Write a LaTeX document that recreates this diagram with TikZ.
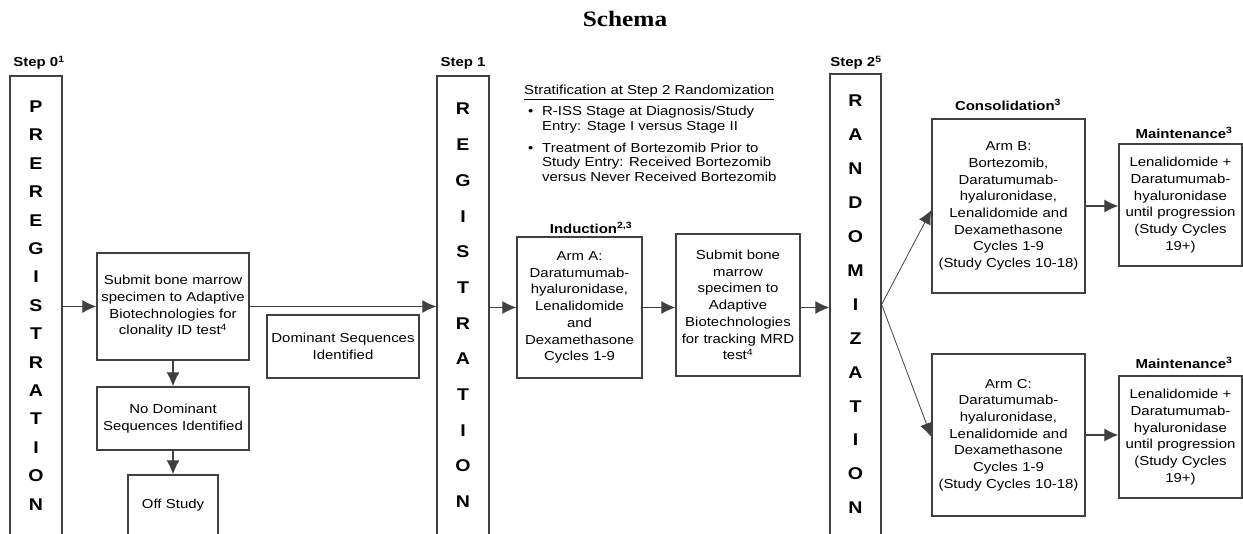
\documentclass[tikz,border=0pt]{standalone}
\usepackage{fontspec}
\setmainfont{Liberation Sans}[FakeStretch=1.15]
\newfontfamily\titlefont{Liberation Serif}[FakeStretch=1.15]
\usetikzlibrary{arrows.meta}
\definecolor{boxgray}{HTML}{404040}

\begin{document}
\begin{tikzpicture}[x=1pt, y=-1pt,
	box/.style={draw=boxgray, line width=1.3pt, align=center, inner xsep=0pt, inner ysep=2pt, font=\fontsize{13}{16.7}\selectfont},
	tall/.style={draw=boxgray, line width=1.3pt, align=center, minimum width=52pt, font=\bfseries\fontsize{17}{#1}\selectfont},
	head/.style={font=\bfseries\fontsize{13}{15}\selectfont},
	arr/.style={draw=boxgray, line width=1.2pt, -{Latex[length=14pt,width=13pt]}},
	thinarr/.style={draw=boxgray, line width=0.8pt, -{Latex[length=14pt,width=13pt]}}]
	\useasboundingbox (0,0) rectangle (1243,534);

	\node[font=\titlefont\bfseries\fontsize{22}{24}\selectfont] (title) at (625,19) {Schema};

	% step 0
	\node[head] (s0) at (39,63) {Step 0\textsuperscript{1}};
	\node[tall=28.4, minimum height=459pt] (pre) at (36,305.5) {P\\R\\E\\R\\E\\G\\I\\S\\T\\R\\A\\T\\I\\O\\N};

	\node[box, text width=152pt, minimum height=107pt] (sub1) at (173,306.5) {Submit bone marrow\\specimen to Adaptive\\Biotechnologies for\\clonality ID test\textsuperscript{4}};
	\node[box, text width=152pt, minimum height=63pt] (dom) at (343,346.5) {Dominant Sequences\\Identified};
	\node[box, text width=152pt, minimum height=63pt] (nodom) at (173,418.5) {No Dominant\\Sequences Identified};
	\node[box, text width=90pt, minimum height=60pt] (off) at (173,505) {Off Study};

	% step 1
	\node[head] (s1) at (463,63) {Step 1};
	\node[tall=35.7, minimum height=459pt] (reg) at (463,305.5) {R\\E\\G\\I\\S\\T\\R\\A\\T\\I\\O\\N};

	\node[anchor=north west, inner sep=0pt, align=left, font=\fontsize{13}{14.5}\selectfont] (strat) at (524,85) {\underline{Stratification at Step 2 Randomization}\\[6.5pt]
		\hspace*{4pt}\makebox[14pt][l]{\textbullet}R-ISS Stage at Diagnosis/Study\\
		\hspace*{18pt}Entry: Stage I versus Stage II\\[7.5pt]
		\hspace*{4pt}\makebox[14pt][l]{\textbullet}Treatment of Bortezomib Prior to\\
		\hspace*{18pt}Study Entry: Received Bortezomib\\
		\hspace*{18pt}versus Never Received Bortezomib};

	\node[head] (ind) at (591,228) {Induction\textsuperscript{2,3}};
	\node[box, text width=125pt, minimum height=141pt] (armA) at (579.5,307.5) {Arm A:\\Daratumumab-\\hyaluronidase,\\Lenalidomide\\and\\Dexamethasone\\Cycles 1-9};
	\node[box, text width=124pt, minimum height=142pt] (sub2) at (738,305) {Submit bone\\marrow\\specimen to\\Adaptive\\Biotechnologies\\for tracking MRD\\test\textsuperscript{4}};

	% step 2
	\node[head] (s2) at (856,63) {Step 2\textsuperscript{5}};
	\node[tall=33.9, minimum width=51pt, minimum height=461pt] (rand) at (855.5,304.5) {R\\A\\N\\D\\O\\M\\I\\Z\\A\\T\\I\\O\\N};

	\node[head] (cons) at (1008,105) {Consolidation\textsuperscript{3}};
	\node[box, text width=153pt, minimum height=174pt] (armB) at (1008.5,206) {Arm B:\\Bortezomib,\\Daratumumab-\\hyaluronidase,\\Lenalidomide and\\Dexamethasone\\Cycles 1-9\\(Study Cycles 10-18)};
	\node[box, text width=153pt, minimum height=162pt] (armC) at (1008.5,435) {Arm C:\\Daratumumab-\\hyaluronidase,\\Lenalidomide and\\Dexamethasone\\Cycles 1-9\\(Study Cycles 10-18)};

	\node[head] (mt1) at (1184,133) {Maintenance\textsuperscript{3}};
	\node[box, text width=123pt, minimum height=122pt] (m1) at (1180.5,205) {Lenalidomide +\\Daratumumab-\\hyaluronidase\\until progression\\(Study Cycles\\19+)};
	\node[head] (mt2) at (1184,363) {Maintenance\textsuperscript{3}};
	\node[box, text width=123pt, minimum height=122pt] (m2) at (1180.5,437) {Lenalidomide +\\Daratumumab-\\hyaluronidase\\until progression\\(Study Cycles\\19+)};

	% arrows
	\draw[arr] (pre.east |- sub1.west) -- (sub1.west);
	\draw[arr] (sub1.east) -- (sub1.east -| reg.west);
	\draw[arr] (sub1.south) -- (nodom.north);
	\draw[arr] (nodom.south) -- (off.north);
	\draw[arr] (reg.east |- armA.west) -- (armA.west);
	\draw[arr] (armA.east) -- (armA.east -| sub2.west);
	\draw[arr] (sub2.east |- armA.east) -- (armA.east -| rand.west);
	\draw[thinarr] (rand.east) -- ([yshift=-4pt]armB.west);
	\draw[thinarr] (rand.east) -- ([yshift=-2pt]armC.west);
	\draw[arr] (armB.east) -- (armB.east -| m1.west);
	\draw[arr] (armC.east) -- (armC.east -| m2.west);

\end{tikzpicture}
\end{document}
